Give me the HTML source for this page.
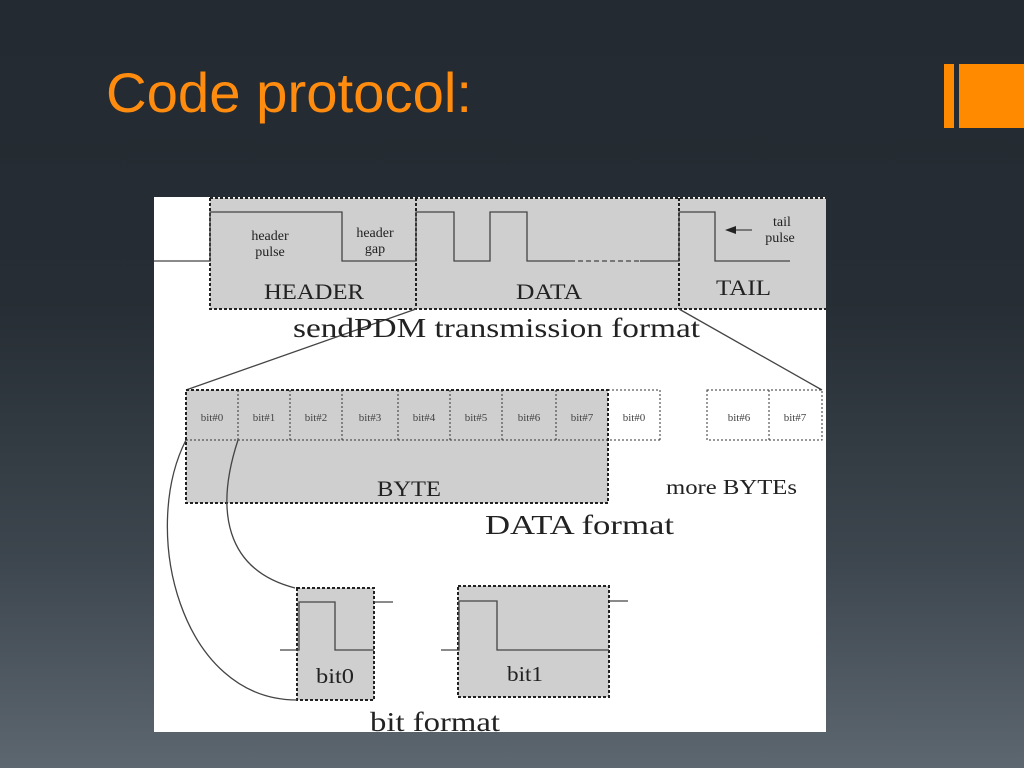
<!DOCTYPE html>
<html><head><meta charset="utf-8"><style>
html,body{margin:0;padding:0}
body{width:1024px;height:768px;overflow:hidden;background:linear-gradient(to bottom,#232a31 0px,#262d34 300px,#3d464e 560px,#5d6770 768px);position:relative;font-family:"Liberation Sans",sans-serif}
</style></head><body>
<svg width="1024" height="768" viewBox="0 0 1024 768" xmlns="http://www.w3.org/2000/svg" style="position:absolute;left:0;top:0">
<text x="106" y="112" font-family="Liberation Sans, sans-serif" font-size="56" fill="#ff8c0f" textLength="366" lengthAdjust="spacingAndGlyphs">Code protocol:</text>
<rect x="944" y="64" width="10" height="64" fill="#ff8a00"/>
<rect x="959" y="64" width="65" height="64" fill="#ff8a00"/>
<rect x="154" y="197" width="672" height="535" fill="#fff"/>
<g font-family="Liberation Serif, serif" fill="#222">
<rect x="210" y="198" width="616" height="111" fill="#cfcfcf"/>
<g fill="none" stroke="#222" stroke-width="2" stroke-dasharray="3,2">
<path d="M210,198 V309 H826 M416,198 V309 M679,198 V309 M210,198 H826"/>
</g>
<g fill="none" stroke="#444" stroke-width="1.3">
<path d="M154,261 H210 V212 H342 V261 H416 V212 H454 V261 H490 V212 H527 V261 H570"/>
<path d="M570,261 H640" stroke-dasharray="5,3"/>
<path d="M640,261 H679 V212 H715 V261 H790"/>
<path d="M734,230 H752"/>
<path d="M416,309 L186,390 M679,309 L822,390"/>
</g>
<path d="M725,230 L736,226 L736,234 Z" fill="#222"/>
<text x="270" y="240" font-size="14" text-anchor="middle">header</text>
<text x="270" y="256" font-size="14" text-anchor="middle">pulse</text>
<text x="375" y="237" font-size="14" text-anchor="middle">header</text>
<text x="375" y="253" font-size="14" text-anchor="middle">gap</text>
<text x="782" y="226" font-size="14" text-anchor="middle">tail</text>
<text x="780" y="242" font-size="14" text-anchor="middle">pulse</text>
<text x="264" y="299" font-size="22" textLength="100" lengthAdjust="spacingAndGlyphs">HEADER</text>
<text x="516" y="299" font-size="22" textLength="66" lengthAdjust="spacingAndGlyphs">DATA</text>
<text x="716" y="295" font-size="22" textLength="55" lengthAdjust="spacingAndGlyphs">TAIL</text>
<text x="293" y="337" font-size="27" textLength="407" lengthAdjust="spacingAndGlyphs">sendPDM transmission format</text>
<rect x="186" y="390" width="422" height="113" fill="#cfcfcf"/>
<g fill="none" stroke="#222" stroke-width="2" stroke-dasharray="3,2">
<rect x="186" y="390" width="422" height="113"/>
</g>
<g fill="none" stroke="#333" stroke-width="1" stroke-dasharray="2,2">
<path d="M186,440 H660 M608,390 H660 M238,390 V440 M290,390 V440 M342,390 V440 M398,390 V440 M450,390 V440 M502,390 V440 M556,390 V440 M660,390 V440"/>
<path d="M707,390 H822 V440 H707 Z M769,390 V440"/>
</g>
<g font-size="11" text-anchor="middle" fill="#444">
<text x="212" y="421">bit#0</text><text x="264" y="421">bit#1</text><text x="316" y="421">bit#2</text><text x="370" y="421">bit#3</text><text x="424" y="421">bit#4</text><text x="476" y="421">bit#5</text><text x="529" y="421">bit#6</text><text x="582" y="421">bit#7</text><text x="634" y="421">bit#0</text><text x="739" y="421">bit#6</text><text x="795" y="421">bit#7</text>
</g>
<text x="377" y="496" font-size="22" textLength="64" lengthAdjust="spacingAndGlyphs">BYTE</text>
<text x="666" y="494" font-size="21" textLength="131" lengthAdjust="spacingAndGlyphs">more BYTEs</text>
<text x="485" y="534" font-size="27" textLength="189" lengthAdjust="spacingAndGlyphs">DATA format</text>
<rect x="297" y="588" width="77" height="112" fill="#cfcfcf"/>
<rect x="458" y="586" width="151" height="111" fill="#cfcfcf"/>
<g fill="none" stroke="#222" stroke-width="2" stroke-dasharray="3,2">
<rect x="297" y="588" width="77" height="112"/>
<rect x="458" y="586" width="151" height="111"/>
</g>
<g fill="none" stroke="#444" stroke-width="1.3">
<path d="M280,650 H299 V602 H335 V650 H374 M374,602 H393"/>
<path d="M441,650 H459 V601 H497 V650 H609 M609,601 H628"/>
<path d="M186,440 C140,530 180,700 297,700"/>
<path d="M238,440 C215,510 225,570 295,588"/>
</g>
<text x="316" y="683" font-size="21" textLength="38" lengthAdjust="spacingAndGlyphs">bit0</text>
<text x="507" y="681" font-size="21" textLength="36" lengthAdjust="spacingAndGlyphs">bit1</text>
<text x="370" y="731" font-size="27" textLength="130" lengthAdjust="spacingAndGlyphs">bit format</text>
</g>
</svg>
</body></html>
